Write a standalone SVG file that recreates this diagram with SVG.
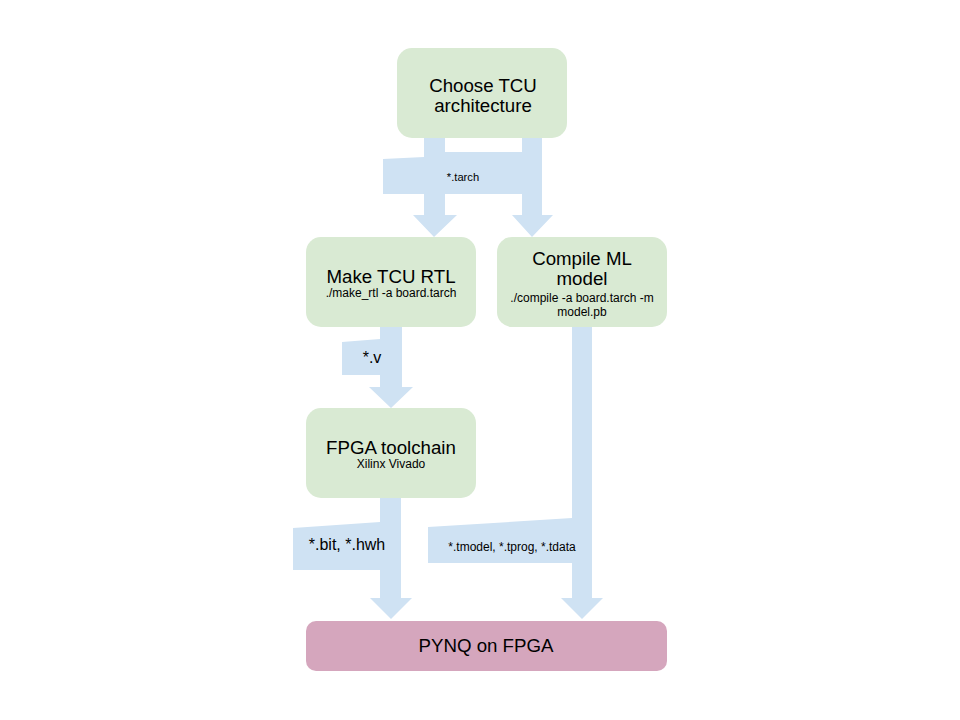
<svg xmlns="http://www.w3.org/2000/svg" width="960" height="720" viewBox="0 0 960 720">
<style>
.node{fill:#d9ead3}
.sink{fill:#d5a6bd}
.conn{fill:#cfe2f3}
text{font-family:"Liberation Sans",Arial,sans-serif;fill:#000;text-anchor:middle}
.t{font-size:18.7px}
.s{font-size:12px}
.m{font-size:16px}
</style>
<rect width="960" height="720" fill="#fff"/>
<g id="connectors">
<g id="c-tarch">
<polygon class="conn" points="424,137 445,137 445,152 522,152 522,137 542,137 542,215 553,215 532,237 512,215 522,215 522,194 445,194 445,215 457,215 434,237 413,215 424,215 424,194 383,194 383,159 424,157"/>
<text class="s" x="463" y="181" style="font-size:11.2px">*.tarch</text>
</g>
<g id="c-v">
<polygon class="conn" points="380,327 402,327 402,387 413,387 391,408 369,387 380,387 380,375 342,375 342,342 380,339"/>
<text class="m" x="372" y="363">*.v</text>
</g>
<g id="c-bit">
<polygon class="conn" points="380,497 401,497 401,598 412,598 391,619 370,598 380,598 380,570 293,570 293,528 380,522"/>
<text class="m" x="347" y="550">*.bit, *.hwh</text>
</g>
<g id="c-tmodel">
<polygon class="conn" points="572,327 592,327 592,598 603,598 582,619 561,598 572,598 572,563 428,563 428,527 572,518"/>
<text class="s" x="512" y="551">*.tmodel, *.tprog, *.tdata</text>
</g>
</g>
<g id="n-choose">
<rect class="node" x="397" y="48" width="170" height="90" rx="15"/>
<text class="t" x="483" y="92">Choose TCU</text>
<text class="t" x="483" y="112">architecture</text>
</g>
<g id="n-rtl">
<rect class="node" x="306" y="237" width="170" height="90" rx="15"/>
<text class="t" x="391" y="283">Make TCU RTL</text>
<text class="s" x="391" y="297">./make_rtl -a board.tarch</text>
</g>
<g id="n-compile">
<rect class="node" x="497" y="237" width="170" height="90" rx="15"/>
<text class="t" x="582" y="265">Compile ML</text>
<text class="t" x="582" y="285">model</text>
<text class="s" x="582" y="302">./compile -a board.tarch -m</text>
<text class="s" x="582" y="316">model.pb</text>
</g>
<g id="n-fpga">
<rect class="node" x="306" y="408" width="170" height="90" rx="15"/>
<text class="t" x="391" y="454">FPGA toolchain</text>
<text class="s" x="391" y="468">Xilinx Vivado</text>
</g>
<g id="n-pynq">
<rect class="sink" x="306" y="621" width="361" height="50" rx="10"/>
<text class="t" x="486" y="652">PYNQ on FPGA</text>
</g>
</svg>
